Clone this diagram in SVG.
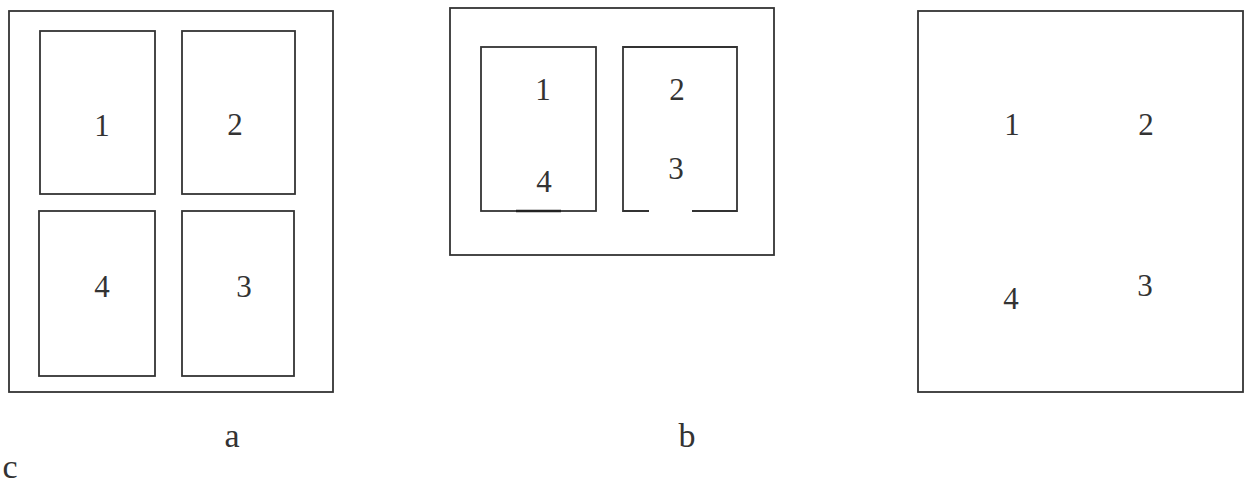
<svg xmlns="http://www.w3.org/2000/svg" width="1250" height="488" viewBox="0 0 1250 488">
<style>
.b{fill:none;stroke:#333;stroke-width:1.8}
.t{font-family:"Liberation Serif",serif;font-size:31px;fill:#333;text-anchor:middle}
.l{font-family:"Liberation Serif",serif;font-size:34px;fill:#333;text-anchor:middle}
</style>
<rect width="1250" height="488" fill="#fff"/>
<g id="panel-a">
<rect class="b" x="9" y="11" width="324" height="381"/>
<g id="a1"><rect class="b" x="40" y="31" width="115" height="163"/><text class="t" x="102" y="136">1</text></g>
<g id="a2"><rect class="b" x="182" y="31" width="113" height="163"/><text class="t" x="235" y="135">2</text></g>
<g id="a4"><rect class="b" x="39" y="211" width="116" height="165"/><text class="t" x="102" y="297">4</text></g>
<g id="a3"><rect class="b" x="182" y="211" width="112" height="165"/><text class="t" x="244" y="297">3</text></g>
<text class="l" x="232" y="447">a</text>
</g>
<g id="panel-b">
<rect class="b" x="450" y="8" width="324" height="247"/>
<g id="b14"><rect class="b" x="481" y="47" width="115" height="164"/>
<line x1="516" y1="211" x2="561" y2="211" stroke="#222" stroke-width="2.4"/>
<text class="t" x="543" y="100">1</text><text class="t" x="544" y="192">4</text></g>
<g id="b23"><path class="b" d="M649 211 H623 V47 H737 V211 H692"/>
<text class="t" x="677" y="100">2</text><text class="t" x="676" y="179">3</text></g>
<text class="l" x="687" y="447">b</text>
</g>
<g id="panel-c">
<rect class="b" x="918" y="11" width="325" height="381"/>
<text class="t" x="1012" y="135">1</text>
<text class="t" x="1146" y="135">2</text>
<text class="t" x="1011" y="309">4</text>
<text class="t" x="1145" y="296">3</text>
</g>
<text class="l" x="10" y="478">c</text>
</svg>
